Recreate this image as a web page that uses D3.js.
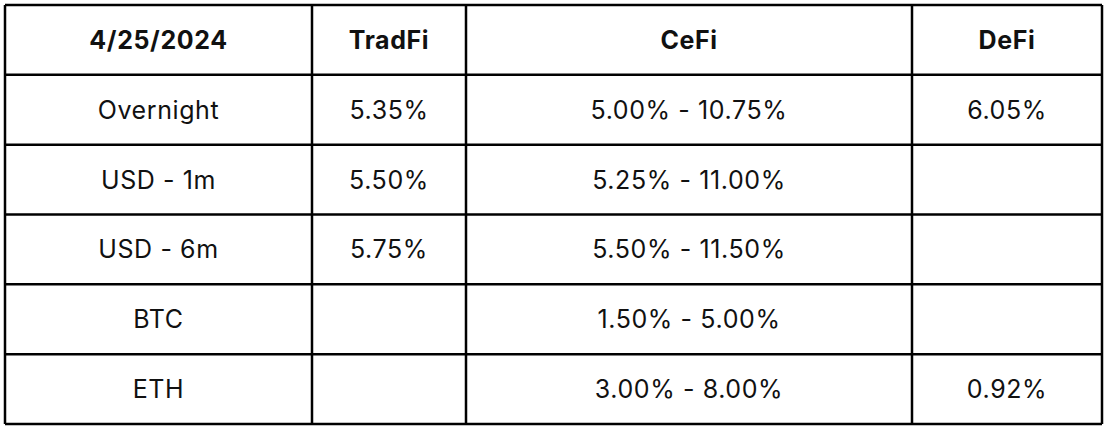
<!DOCTYPE html><html><head><script src="https://cdn.jsdelivr.net/npm/d3@7"></script>
<style>body{margin:0;background:#fff}</style></head><body><script>
const headers=["4/25/2024","TradFi","CeFi","DeFi"];
const rowLabels=["Overnight","USD - 1m","USD - 6m","BTC","ETH"];
const tradfi=["5.35%","5.50%","5.75%","",""];
const cefi=["5.00% - 10.75%","5.25% - 11.00%","5.50% - 11.50%","1.50% - 5.00%","3.00% - 8.00%"];
const defi=["6.05%","","","","0.92%"];
const colEdges=[5,312,466,912,1102];
const rows=[headers,...rowLabels.map((r,i)=>[r,tradfi[i],cefi[i],defi[i]])];
const svg=d3.select("body").append("svg").attr("width",1106).attr("height",428);
const y=d3.scaleBand().domain(d3.range(rows.length)).range([5,424]);
const g=svg.append("g");
rows.forEach((row,ri)=>row.forEach((t,ci)=>{
  g.append("text").attr("x",(colEdges[ci]+colEdges[ci+1])/2).attr("y",y(ri)+y.bandwidth()/2)
   .attr("text-anchor","middle").attr("dominant-baseline","central")
   .attr("font-family","Inter, 'Noto Sans', sans-serif").attr("font-size",25).attr("letter-spacing",0.6)
   .attr("font-weight",ri===0?700:400).attr("fill","#111").text(t);
}));
colEdges.forEach(x=>g.append("line").attr("x1",x).attr("x2",x).attr("y1",5).attr("y2",424).attr("stroke","#000").attr("stroke-width",2.5));
d3.range(rows.length+1).forEach(i=>{const yy=i<rows.length?y(i):424;
 g.append("line").attr("x1",5).attr("x2",1102).attr("y1",yy).attr("y2",yy).attr("stroke","#000").attr("stroke-width",2.5);});
</script></body></html>
